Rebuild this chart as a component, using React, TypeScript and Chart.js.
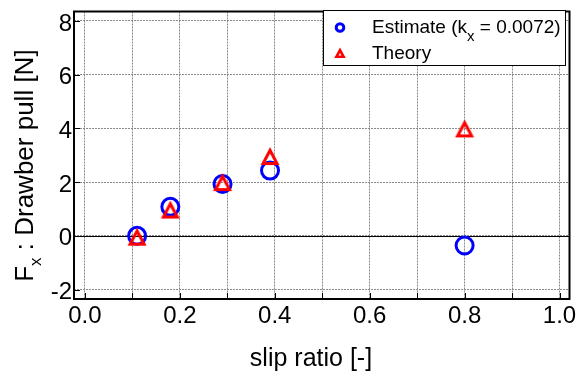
import React, { useEffect, useRef } from 'react';
import { Chart, registerables } from 'chart.js';

Chart.register(...registerables);

// ---- data ----
const slipEstimate = [0.11, 0.18, 0.29, 0.39, 0.8];
const pullEstimate = [0.0, 1.08, 1.93, 2.43, -0.36];
const slipTheory = [0.11, 0.18, 0.29, 0.39, 0.8];
const pullTheory = [-0.03, 0.98, 2.0, 2.97, 4.0];

const seriesNames = ['Estimate (k', 'Theory'];
const estimateSub = 'x';
const estimateTail = ' = 0.0072)';
const xTitle = 'slip ratio [-]';
const yTitleMain = 'F';
const yTitleSub = 'x';
const yTitleTail = ' : Drawber pull [N]';

const xMin = -0.023;
const xMax = 1.021;
const yMin = -2.35;
const yMax = 8.35;

const FONT = '"Liberation Sans", Arial, Helvetica, sans-serif';

function makeTriangle(size: number, hw: number, ty: number, by: number, lw: number) {
  const c = document.createElement('canvas');
  c.width = size;
  c.height = size;
  const g = c.getContext('2d')!;
  const cx = size / 2;
  g.strokeStyle = '#ff0000';
  g.lineWidth = lw;
  g.lineJoin = 'miter';
  g.beginPath();
  g.moveTo(cx, ty);
  g.lineTo(cx + hw, by);
  g.lineTo(cx - hw, by);
  g.closePath();
  g.stroke();
  return c;
}

export default function App() {
  const ref = useRef<HTMLCanvasElement | null>(null);

  useEffect(() => {
    if (!ref.current) return;
    const tri = makeTriangle(24, 7, 6.25, 19.5, 3);
    const triSmall = makeTriangle(14, 3.6, 4.2, 10.8, 2.6);

    const decor = {
      id: 'decor',
      beforeDatasetsDraw(chart: any) {
        const { ctx, chartArea, scales } = chart;
        const y0 = scales.y.getPixelForValue(0);
        ctx.save();
        ctx.strokeStyle = '#000';
        ctx.lineWidth = 1;
        ctx.beginPath();
        ctx.moveTo(chartArea.left, Math.round(y0) + 0.5);
        ctx.lineTo(chartArea.right, Math.round(y0) + 0.5);
        ctx.stroke();
        ctx.restore();
      },
      afterDatasetsDraw(chart: any) {
        const { ctx, chartArea, scales } = chart;
        const { left, right, top, bottom } = chartArea;
        ctx.save();
        ctx.strokeStyle = '#000';
        ctx.lineWidth = 1;
        ctx.beginPath();
        scales.x.ticks.forEach((t: any) => {
          const px = Math.round(scales.x.getPixelForValue(t.value)) + 0.5;
          ctx.moveTo(px, bottom);
          ctx.lineTo(px, bottom - 6);
        });
        scales.y.ticks.forEach((t: any) => {
          const py = Math.round(scales.y.getPixelForValue(t.value)) + 0.5;
          ctx.moveTo(left, py);
          ctx.lineTo(left + 6, py);
        });
        ctx.stroke();
        ctx.lineWidth = 2;
        ctx.strokeRect(left, top, right - left, bottom - top);
        ctx.restore();
      },
      afterDraw(chart: any) {
        const { ctx } = chart;
        ctx.save();
        ctx.fillStyle = '#000';
        // x title
        ctx.font = `25px ${FONT}`;
        ctx.textAlign = 'center';
        ctx.textBaseline = 'alphabetic';
        ctx.fillText(xTitle, 311, 366);

        // y title with subscript
        ctx.translate(33, 165.6);
        ctx.rotate(-Math.PI / 2);
        ctx.textAlign = 'left';
        const mainFont = `26px ${FONT}`;
        const subFont = `17px ${FONT}`;
        ctx.font = mainFont;
        const wF = ctx.measureText(yTitleMain).width;
        const wT = ctx.measureText(yTitleTail).width;
        ctx.font = subFont;
        const wS = ctx.measureText(yTitleSub).width;
        let x = -(wF + wS + wT) / 2;
        ctx.font = mainFont;
        ctx.fillText(yTitleMain, x, 0);
        x += wF;
        ctx.font = subFont;
        ctx.fillText(yTitleSub, x, 8);
        x += wS;
        ctx.font = mainFont;
        ctx.fillText(yTitleTail, x, 0);
        ctx.restore();

        // legend
        ctx.save();
        ctx.fillStyle = '#fff';
        ctx.fillRect(323, 10, 243, 56);
        ctx.strokeStyle = '#000';
        ctx.lineWidth = 1;
        ctx.strokeRect(323.5, 10.5, 242, 55);
        ctx.strokeStyle = '#0000ff';
        ctx.lineWidth = 3;
        ctx.beginPath();
        ctx.arc(340, 27.5, 3.8, 0, Math.PI * 2);
        ctx.stroke();
        ctx.drawImage(triSmall, 340 - 7, 53 - 7);
        ctx.fillStyle = '#000';
        ctx.textAlign = 'left';
        ctx.textBaseline = 'alphabetic';
        const lf = `19px ${FONT}`;
        const lsf = `15px ${FONT}`;
        ctx.font = lf;
        let lx = 372;
        ctx.fillText(seriesNames[0], lx, 32.5);
        lx += ctx.measureText(seriesNames[0]).width;
        ctx.font = lsf;
        ctx.fillText(estimateSub, lx, 41);
        lx += ctx.measureText(estimateSub).width;
        ctx.font = lf;
        ctx.fillText(estimateTail, lx, 32.5);
        ctx.fillText(seriesNames[1], 372, 58.5);
        ctx.restore();
      },
    };

    const chart = new Chart(ref.current, {
      type: 'scatter',
      data: {
        datasets: [
          {
            label: 'Estimate',
            data: slipEstimate.map((s, i) => ({ x: s, y: pullEstimate[i] })),
            pointStyle: 'circle',
            pointRadius: 8.5,
            pointHoverRadius: 8.5,
            borderWidth: 3,
            borderColor: '#0000ff',
            backgroundColor: 'rgba(0,0,0,0)',
            order: 2,
          },
          {
            label: 'Theory',
            data: slipTheory.map((s, i) => ({ x: s, y: pullTheory[i] })),
            pointStyle: tri as any,
            pointRadius: 10,
            borderWidth: 0,
            borderColor: '#ff0000',
            backgroundColor: 'rgba(0,0,0,0)',
            order: 1,
          },
        ],
      },
      options: {
        responsive: false,
        animation: false,
        devicePixelRatio: 1,
        layout: { padding: { top: 6, right: 9, left: 0, bottom: 0 } },
        plugins: {
          legend: { display: false },
          tooltip: { enabled: false },
          title: { display: false },
        },
        events: [],
        scales: {
          x: {
            type: 'linear',
            min: xMin,
            max: xMax,
            afterFit: (s: any) => {
              s.height = 73;
              s.paddingLeft = 0;
              s.paddingRight = 0;
            },
            border: { display: false, dash: [2, 1] },
            grid: { color: '#8a8a8a', lineWidth: 1, drawTicks: false },
            ticks: {
              stepSize: 0.1,
              includeBounds: false,
              autoSkip: false,
              maxRotation: 0,
              padding: 3,
              color: '#000',
              font: { family: FONT, size: 24 },
              callback: (v: any) => {
                const n = Math.round(Number(v) * 10);
                return n % 2 === 0 ? (n / 10).toFixed(1) : '';
              },
            },
          },
          y: {
            type: 'linear',
            min: yMin,
            max: yMax,
            afterFit: (s: any) => {
              s.width = 74;
              s.paddingTop = 0;
              s.paddingBottom = 0;
            },
            border: { display: false, dash: [2, 1] },
            grid: { color: '#8a8a8a', lineWidth: 1, drawTicks: false },
            ticks: {
              stepSize: 2,
              includeBounds: false,
              autoSkip: false,
              padding: 2,
              labelOffset: 3,
              color: '#000',
              font: { family: FONT, size: 24 },
              callback: (v: any) => String(Math.round(Number(v))),
            },
          },
        },
      },
      plugins: [decor],
    });
    return () => chart.destroy();
  }, []);

  return (
    <div style={{ position: 'absolute', left: 0, top: 0, width: 581, height: 372, background: '#fff' }}>
      <canvas ref={ref} width={581} height={372} style={{ display: 'block' }} />
    </div>
  );
}
